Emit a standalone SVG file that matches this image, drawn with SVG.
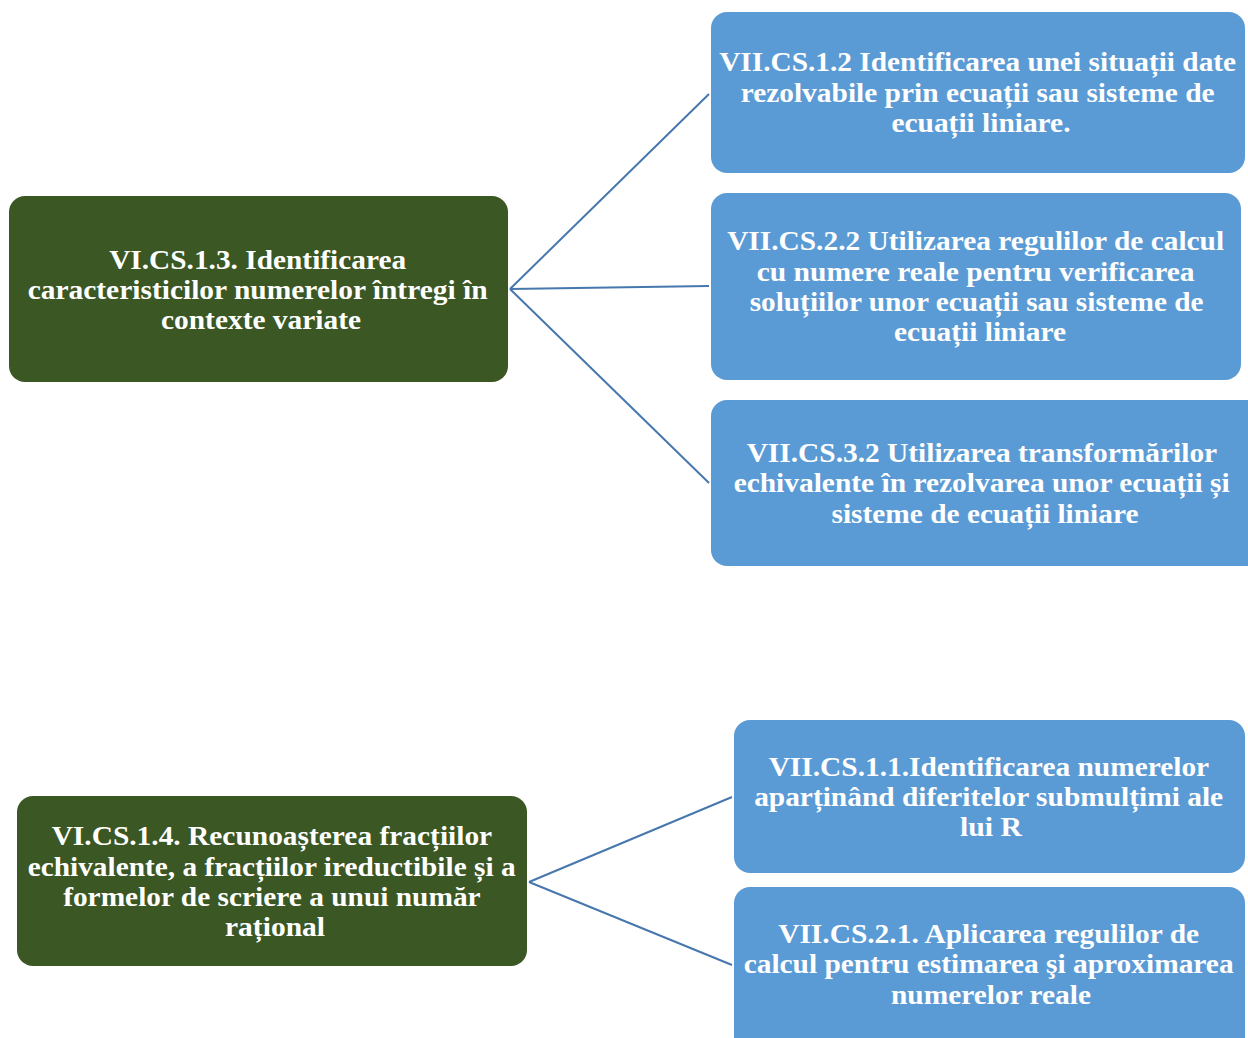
<svg xmlns="http://www.w3.org/2000/svg" width="1248" height="1038" viewBox="0 0 1248 1038">
  <style>
    .green { fill: #3b5724; }
    .blue { fill: #5b9bd5; }
    .link { stroke: #4677ad; stroke-width: 2; fill: none; }
    text { font-family: "Liberation Serif", "Times New Roman", serif; font-weight: bold; fill: #ffffff; text-anchor: middle; }
    .t-blue { font-size: 27px; }
    .t-green { font-size: 27px; }
  </style>
  <rect width="1248" height="1038" fill="#ffffff"/>

  <!-- connectors -->
  <g id="connectors">
    <line class="link" x1="510" y1="289" x2="709" y2="94"/>
    <line class="link" x1="510" y1="289" x2="709" y2="286"/>
    <line class="link" x1="510" y1="289" x2="709" y2="483"/>
    <line class="link" x1="529" y1="882" x2="732" y2="797"/>
    <line class="link" x1="529" y1="882" x2="732" y2="965"/>
  </g>

  <g id="vi-cs-1-3">
    <rect class="green" x="9" y="196" width="499" height="186" rx="16"/>
    <text class="t-green">
      <tspan x="261" y="269" textLength="297" lengthAdjust="spacingAndGlyphs">VI.CS.1.3. Identificarea</tspan>
      <tspan x="261" y="299" textLength="460" lengthAdjust="spacingAndGlyphs">caracteristicilor numerelor întregi în</tspan>
      <tspan x="261" y="329" textLength="200" lengthAdjust="spacingAndGlyphs">contexte variate</tspan>
    </text>
  </g>

  <g id="vii-cs-1-2">
    <rect class="blue" x="711" y="12" width="534" height="161" rx="16"/>
    <text class="t-blue">
      <tspan x="981" y="71" textLength="517" lengthAdjust="spacingAndGlyphs">VII.CS.1.2 Identificarea unei situații date</tspan>
      <tspan x="981" y="102" textLength="474" lengthAdjust="spacingAndGlyphs">rezolvabile prin ecuații sau sisteme de</tspan>
      <tspan x="981" y="132" textLength="179" lengthAdjust="spacingAndGlyphs">ecuații liniare.</tspan>
    </text>
  </g>

  <g id="vii-cs-2-2">
    <rect class="blue" x="711" y="193" width="530" height="187" rx="16"/>
    <text class="t-blue">
      <tspan x="979" y="250" textLength="497" lengthAdjust="spacingAndGlyphs">VII.CS.2.2 Utilizarea regulilor de calcul</tspan>
      <tspan x="979" y="281" textLength="438" lengthAdjust="spacingAndGlyphs">cu numere reale pentru verificarea</tspan>
      <tspan x="980" y="311" textLength="454" lengthAdjust="spacingAndGlyphs">soluțiilor unor ecuații sau sisteme de</tspan>
      <tspan x="980" y="341" textLength="172" lengthAdjust="spacingAndGlyphs">ecuații liniare</tspan>
    </text>
  </g>

  <g id="vii-cs-3-2">
    <rect class="blue" x="711" y="400" width="555" height="166" rx="16"/>
    <text class="t-blue">
      <tspan x="985" y="462" textLength="470" lengthAdjust="spacingAndGlyphs">VII.CS.3.2 Utilizarea transformărilor</tspan>
      <tspan x="985" y="492" textLength="496" lengthAdjust="spacingAndGlyphs">echivalente în rezolvarea unor ecuații și</tspan>
      <tspan x="985" y="523" textLength="307" lengthAdjust="spacingAndGlyphs">sisteme de ecuații liniare</tspan>
    </text>
  </g>

  <g id="vi-cs-1-4">
    <rect class="green" x="17" y="796" width="510" height="170" rx="16"/>
    <text class="t-green">
      <tspan x="275" y="845" textLength="440" lengthAdjust="spacingAndGlyphs">VI.CS.1.4. Recunoașterea fracțiilor</tspan>
      <tspan x="275" y="876" textLength="488" lengthAdjust="spacingAndGlyphs">echivalente, a fracțiilor ireductibile și a</tspan>
      <tspan x="275" y="906" textLength="417" lengthAdjust="spacingAndGlyphs">formelor de scriere a unui număr</tspan>
      <tspan x="275" y="936" textLength="100" lengthAdjust="spacingAndGlyphs">rațional</tspan>
    </text>
  </g>

  <g id="vii-cs-1-1">
    <rect class="blue" x="734" y="720" width="511" height="153" rx="16"/>
    <text class="t-blue">
      <tspan x="992" y="776" textLength="440" lengthAdjust="spacingAndGlyphs">VII.CS.1.1.Identificarea numerelor</tspan>
      <tspan x="992" y="806" textLength="469" lengthAdjust="spacingAndGlyphs">aparținând diferitelor submulțimi ale</tspan>
      <tspan x="991" y="836" textLength="62" lengthAdjust="spacingAndGlyphs">lui R</tspan>
    </text>
  </g>

  <g id="vii-cs-2-1">
    <rect class="blue" x="734" y="887" width="511" height="170" rx="16"/>
    <text class="t-blue">
      <tspan x="992" y="943" textLength="421" lengthAdjust="spacingAndGlyphs">VII.CS.2.1. Aplicarea regulilor de</tspan>
      <tspan x="992" y="973" textLength="490" lengthAdjust="spacingAndGlyphs">calcul pentru estimarea şi aproximarea</tspan>
      <tspan x="991" y="1004" textLength="200" lengthAdjust="spacingAndGlyphs">numerelor reale</tspan>
    </text>
  </g>
</svg>
